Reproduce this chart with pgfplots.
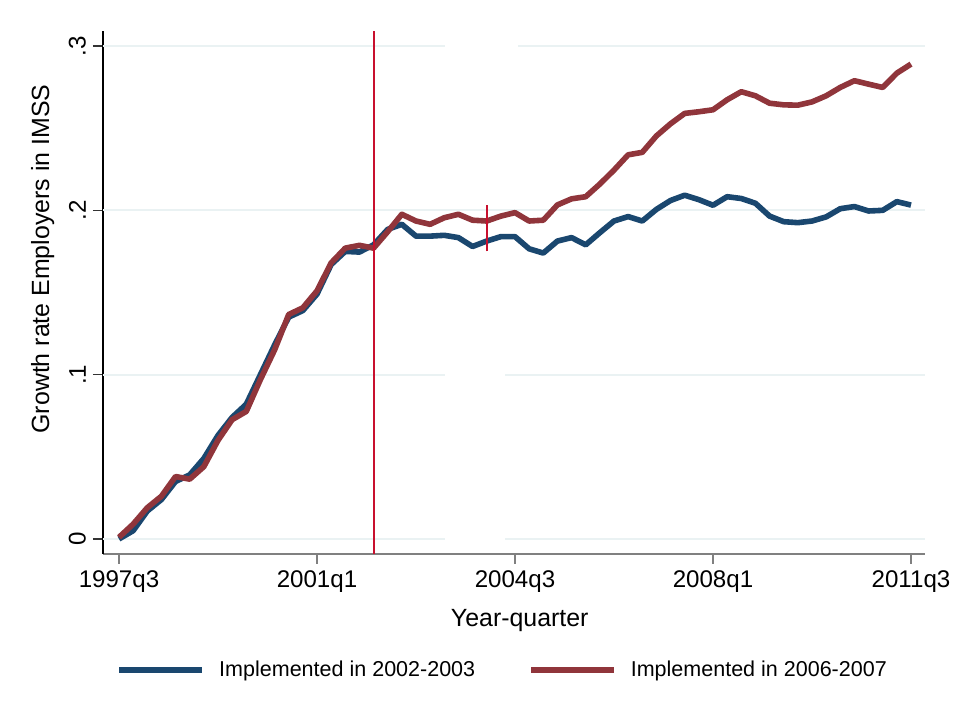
\documentclass[border=0pt]{standalone}
\usepackage{pgfplots}
\pgfplotsset{compat=1.18}
\usepackage{fontspec}
\setmainfont{Liberation Sans}
\definecolor{sblue}{HTML}{1A476F}
\definecolor{sred}{HTML}{90353B}
\definecolor{refline}{RGB}{200,16,46}
\definecolor{gridc}{HTML}{EAF2F3}
\definecolor{axgray}{HTML}{808080}
\begin{document}
\begin{tikzpicture}
\path[use as bounding box] (0,0) rectangle (477.5bp,355.5bp);
\begin{axis}[
  at={(51.5bp,78.5bp)}, anchor=south west,
  scale only axis, width=411bp, height=261.5bp,
  xmin=-1.13, xmax=56.99, ymin=-0.00915, ymax=0.30915,
  axis x line*=bottom, axis y line*=left,
  x axis line style={axgray, line width=0.7bp, -},
  y axis line style={black, line width=0.7bp, -},
  tick align=outside,
  major tick length=5bp,
  x tick style={axgray, line width=0.7bp},
  y tick style={black!80, line width=0.7bp},
  xtick={0,14,28,42,56},
  xticklabels={1997q3,2001q1,2004q3,2008q1,2011q3},
  ytick={0,0.1,0.2,0.3},
  yticklabels={0,.1,.2,.3},
  /pgf/number format/assume math mode=true,
  ticklabel style={font=\fontsize{12.1}{14}\selectfont},
  yticklabel style={rotate=90, anchor=south},
  xlabel={Year-quarter},
  ylabel={Growth rate Employers in IMSS},
  label style={font=\fontsize{12.5}{14}\selectfont},
  xlabel style={at={(axis description cs:0.507,0)}, anchor=center, yshift=-33.5bp},
  ylabel style={at={(axis description cs:-0.0735,0.564)}, anchor=center},
  legend columns=2,
  legend style={at={(axis description cs:0.4875,0)}, anchor=center, yshift=-58bp,
    draw=none, fill=none, font=\fontsize{10.8}{12}\selectfont,
    /tikz/every even column/.append style={column sep=24.5bp}},
  legend image code/.code={\draw[#1] (0bp,0bp) -- (41.5bp,0bp); \path (46.5bp,0bp);},
  clip=false,
]
% grid
\draw[gridc, line width=1bp] (axis cs:-1.13,0.3) -- (axis cs:23.05,0.3) (axis cs:28.2,0.3) -- (axis cs:56.99,0.3);
\draw[gridc, line width=1bp] (axis cs:-1.13,0.2) -- (axis cs:56.99,0.2);
\draw[gridc, line width=1bp] (axis cs:-1.13,0.1) -- (axis cs:23.05,0.1) (axis cs:27.3,0.1) -- (axis cs:56.99,0.1);
\draw[gridc, line width=1bp] (axis cs:-1.13,0) -- (axis cs:23.05,0) (axis cs:27.3,0) -- (axis cs:56.99,0);

\addplot[sblue, line width=2.8bp, line join=round] coordinates {
(0,0.000) (1,0.005) (2,0.017) (3,0.024) (4,0.035) (5,0.039) (6,0.049) (7,0.063)
(8,0.074) (9,0.082) (10,0.100) (11,0.118) (12,0.135) (13,0.139) (14,0.149) (15,0.167)
(16,0.175) (17,0.1746) (18,0.179) (19,0.1884) (20,0.1915) (21,0.1843) (22,0.1843) (23,0.1848)
(24,0.1834) (25,0.178) (26,0.1813) (27,0.184) (28,0.184) (29,0.1766) (30,0.174) (31,0.1813)
(32,0.1834) (33,0.179) (34,0.1864) (35,0.1935) (36,0.1962) (37,0.1935) (38,0.2006) (39,0.206)
(40,0.2092) (41,0.2065) (42,0.2031) (43,0.2083) (44,0.2072) (45,0.2043) (46,0.1965) (47,0.1931)
(48,0.1925) (49,0.1935) (50,0.196) (51,0.201) (52,0.2023) (53,0.1996) (54,0.2000) (55,0.2053)
(56,0.2032)
};
\addlegendentry{Implemented in 2002-2003}
\addplot[sred, line width=2.8bp, line join=round] coordinates {
(0,0.001) (1,0.009) (2,0.019) (3,0.026) (4,0.038) (5,0.0364) (6,0.044) (7,0.060)
(8,0.0726) (9,0.0776) (10,0.097) (11,0.115) (12,0.1366) (13,0.1407) (14,0.151) (15,0.168)
(16,0.177) (17,0.1787) (18,0.177) (19,0.187) (20,0.1976) (21,0.1935) (22,0.1915) (23,0.1955)
(24,0.1976) (25,0.194) (26,0.1935) (27,0.1965) (28,0.1986) (29,0.1935) (30,0.194) (31,0.2033)
(32,0.207) (33,0.2083) (34,0.2160) (35,0.2245) (36,0.2338) (37,0.2353) (38,0.2453) (39,0.2527)
(40,0.259) (41,0.260) (42,0.2612) (43,0.2673) (44,0.2722) (45,0.2697) (46,0.2652) (47,0.2642)
(48,0.264) (49,0.266) (50,0.2697) (51,0.2748) (52,0.2789) (53,0.2768) (54,0.2748) (55,0.2835)
(56,0.289)
};
\addlegendentry{Implemented in 2006-2007}
% reference lines
\draw[color=refline, line width=1bp] (axis cs:18,-0.00915) -- (axis cs:18,0.30915);
\draw[color=refline, line width=1bp] (axis cs:26,0.175) -- (axis cs:26,0.203);
\end{axis}
\end{tikzpicture}
\end{document}
